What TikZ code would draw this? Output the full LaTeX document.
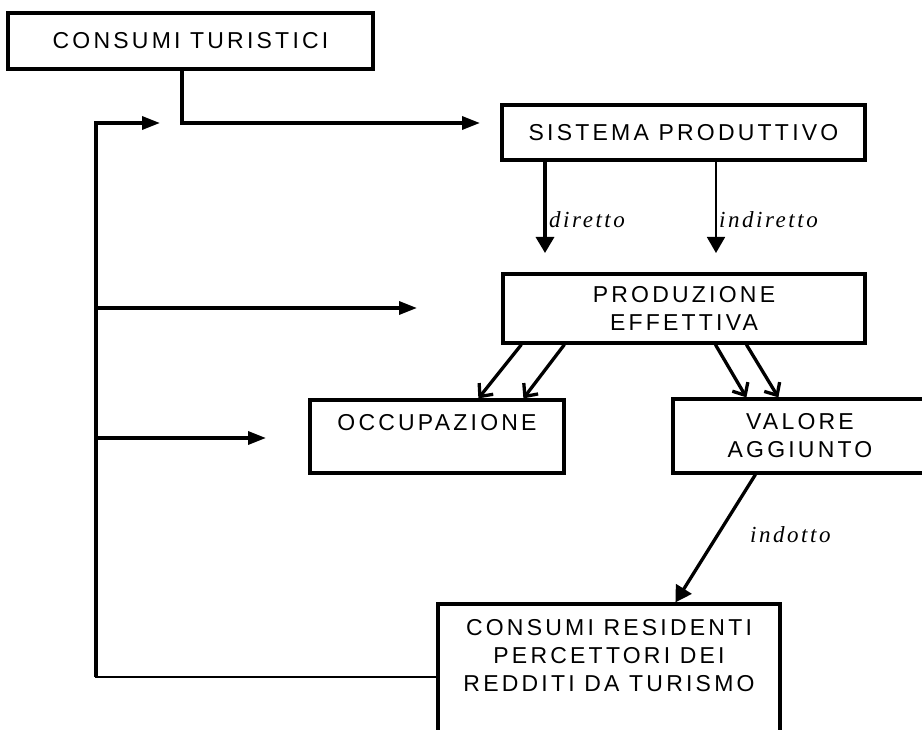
\documentclass[tikz,border=0pt]{standalone}
\usepackage{fontspec}
\setmainfont{Liberation Sans}[LetterSpace=14]
\newfontfamily\lblfont{Liberation Serif}[LetterSpace=11]
\usetikzlibrary{arrows.meta,calc}
\tikzset{
  flowbox/.style={draw=black, line width=3.2pt, fill=white, align=center, inner sep=2pt, font=\fontsize{23}{28}\selectfont},
  flowarrow/.style={-{Triangle[length=18pt,width=13pt]}, line width=3.3pt},
  droparrow/.style={-{Triangle[length=16pt,width=18pt]}, line width=3.3pt},
  dropthin/.style={-{Triangle[length=16pt,width=18pt]}, line width=1.7pt},
  splitarrow/.style={-{Straight Barb[length=10pt,width=18pt]}, line width=3.3pt},
  loopline/.style={line width=2.3pt, line cap=rect},
  flowlabel/.style={font=\lblfont\itshape\fontsize{23}{28}\selectfont, inner sep=0pt, anchor=base west}
}

\begin{document}
\begin{tikzpicture}[x=1pt,y=-1pt]
  \clip (0,0) rectangle (922,730);

  % boxes
  \node[flowbox, minimum width=365pt, minimum height=56pt] (ct) at (190.5,41) {CONSUMI TURISTICI};
  \node[flowbox, minimum width=363pt, minimum height=55pt] (sp) at (683.5,132.5) {SISTEMA PRODUTTIVO};
  \node[flowbox, minimum width=362pt, minimum height=69pt] (pe) at (684,308.5) {PRODUZIONE\\EFFETTIVA};
  \node[flowbox, minimum width=254pt, minimum height=73pt] (occ) at (437,436.5) {OCCUPAZIONE\\~};
  \node[flowbox, minimum width=254pt, minimum height=74pt] (va) at (800,436) {VALORE\\AGGIUNTO};
  \node[flowbox, minimum width=342pt, minimum height=158pt] (cr) at (609,683) {CONSUMI RESIDENTI\\PERCETTORI DEI\\REDDITI DA TURISMO\\~\\~};

  % labels
  \node[flowlabel] (ldir) at (549,228) {diretto};
  \node[flowlabel] (lind) at (719,228) {indiretto};
  \node[flowlabel] (lindot) at (750,542) {indotto};

  % routing coordinates
  \coordinate (ctfork)  at (182,123);
  \coordinate (spin)    at (480,123);
  \coordinate (dirtip)  at (545,253);
  \coordinate (indtip)  at (716,253);
  \coordinate (loop)    at (96,677);
  \coordinate (looptop) at (96,123);
  \coordinate (looptip) at (160,123);
  \coordinate (pein)    at (417,308);
  \coordinate (occin)   at (266,438);

  % arrows: top
  \draw[flowarrow] (ct.south -| ctfork) -- (ctfork) -- (spin);
  \draw[droparrow] (sp.south -| dirtip) -- (dirtip);
  \draw[dropthin] (sp.south -| indtip) -- (indtip);

  % arrows: split
  \draw[splitarrow] ($(pe.south west)+(20,0)$) -- ($(occ.north west)+(170,0)$);
  \draw[splitarrow] ($(pe.south west)+(63,0)$) -- ($(occ.north west)+(215,0)$);
  \draw[splitarrow] ($(pe.south west)+(214,0)$) -- ($(va.north west)+(75,0)$);
  \draw[splitarrow] ($(pe.south west)+(245,0)$) -- ($(va.north west)+(107,0)$);
  \draw[droparrow] ($(va.south west)+(84,0)$) -- ($(cr.north west)+(239,0)$);

  % arrows: feedback loop
  \draw[loopline] (cr.west |- loop) -- (loop);
  \draw[flowarrow] (loop) -- (looptop) -- (looptip);
  \draw[flowarrow] (loop |- pein) -- (pein);
  \draw[flowarrow] (loop |- occin) -- (occin);

\end{tikzpicture}
\end{document}
